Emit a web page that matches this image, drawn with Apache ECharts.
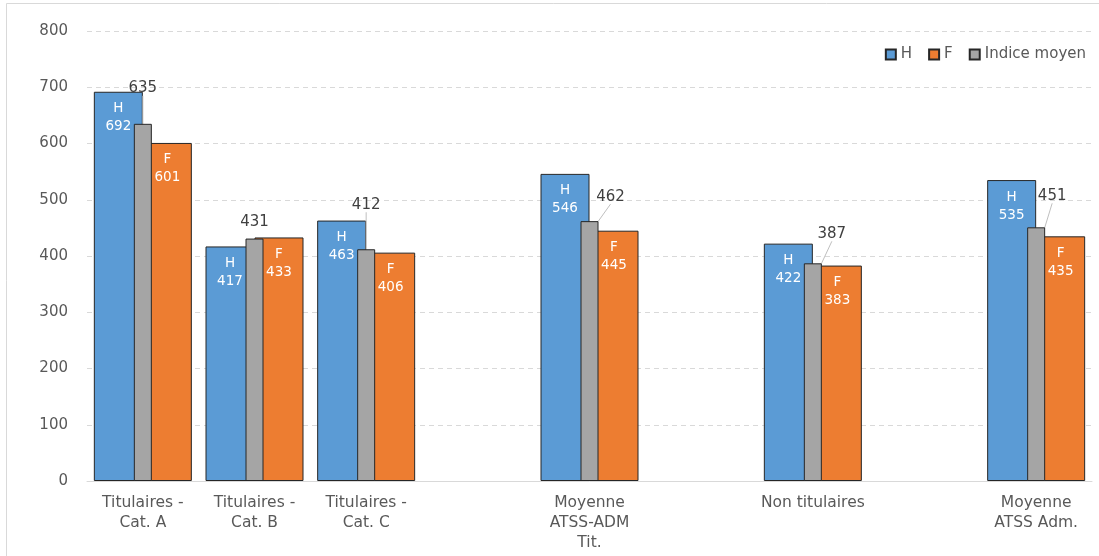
<!DOCTYPE html>
<html>
<head>
<meta charset="utf-8">
<script src="https://cdn.jsdelivr.net/npm/echarts@6/dist/echarts.min.js"></script>
<style>
html,body{margin:0;padding:0;background:#fff;}
#chart{width:1099px;height:556px;}
</style>
</head>
<body>
<div id="chart"></div>
<script>
var categories = ['Titulaires -\nCat. A', 'Titulaires -\nCat. B', 'Titulaires -\nCat. C', '', 'Moyenne\nATSS-ADM\nTit.', '', 'Non titulaires', '', 'Moyenne\nATSS Adm.'];
var hValues = [692, 417, 463, null, 546, null, 422, null, 535];
var fValues = [601, 433, 406, null, 445, null, 383, null, 435];
var indiceValues = [635, 431, 412, null, 462, null, 387, null, 451];
var yTicks = { min: 0, max: 800, interval: 100 };

// label offsets for the "Indice moyen" labels (dx, dy) and whether a guide line is shown
var indiceLabelShift = [[0, -23], [0, -4], [0, -32], [0, 0], [21, -12], [0, 0], [19, -17], [0, 0], [16, -19]];
var indiceLabelLine = [true, false, true, false, true, false, true, false, true];

var chart = echarts.init(document.getElementById('chart'));
var font = 'DejaVu Sans';
var indiceData = indiceValues.map(function (v, i) {
  return { value: v, labelLine: { show: indiceLabelLine[i] } };
});
var option = {
  animation: false,
  backgroundColor: '#fff',
  graphic: [{
    type: 'rect', silent: true,
    shape: { x: 6.5, y: 3.5, width: 1100, height: 600 },
    style: { fill: 'none', stroke: '#d9d9d9', lineWidth: 1 }
  }],
  legend: {
    right: 8, top: 42,
    itemWidth: 10, itemHeight: 10, itemGap: 16,
    icon: 'rect',
    textStyle: { fontFamily: font, fontSize: 15, color: '#595959', padding: [0, 0, 0, 0] },
    data: ['H', 'F', 'Indice moyen']
  },
  grid: { left: 87, right: 7, top: 31, bottom: 75 },
  xAxis: [{
    type: 'category', data: categories,
    axisLine: { lineStyle: { color: '#d9d9d9' } },
    axisTick: { show: false },
    axisLabel: { interval: 0, fontFamily: font, fontSize: 15.5, color: '#595959', lineHeight: 20, margin: 12 }
  }, {
    type: 'category', data: categories, show: false, position: 'bottom'
  }],
  yAxis: {
    type: 'value', min: yTicks.min, max: yTicks.max, interval: yTicks.interval,
    axisLine: { show: false }, axisTick: { show: false },
    axisLabel: { fontFamily: font, fontSize: 15, color: '#595959', margin: 19 },
    splitLine: { lineStyle: { color: '#d9d9d9', type: [5, 4] } }
  },
  series: [{
    name: 'H', type: 'bar', xAxisIndex: 0, data: hValues,
    barWidth: 49, barGap: '0%',
    itemStyle: { color: '#5B9BD5', borderColor: '#262626', borderWidth: 1 },
    label: { show: true, position: 'insideTop', distance: 8, formatter: 'H\n{c}', color: '#fff', fontFamily: font, fontSize: 13.5, lineHeight: 18 }
  }, {
    name: 'F', type: 'bar', xAxisIndex: 0, data: fValues,
    barWidth: 49, barGap: '0%',
    itemStyle: { color: '#ED7D31', borderColor: '#262626', borderWidth: 1 },
    label: { show: true, position: 'insideTop', distance: 8, formatter: 'F\n{c}', color: '#fff', fontFamily: font, fontSize: 13.5, lineHeight: 18 }
  }, {
    name: 'Indice moyen', type: 'bar', xAxisIndex: 1, data: indiceData,
    barWidth: 18, z: 3,
    itemStyle: { color: '#A5A5A5', borderColor: '#262626', borderWidth: 1 },
    label: { show: true, position: 'top', distance: 5, color: '#404040', fontFamily: font, fontSize: 15 },
    labelLine: { show: true, lineStyle: { color: '#bfbfbf', width: 1 } },
    labelLayout: function (p) {
      var s = indiceLabelShift[p.dataIndex] || [0, 0];
      return { dx: s[0], dy: s[1] };
    }
  }]
};
chart.setOption(option);
</script>
</body>
</html>
